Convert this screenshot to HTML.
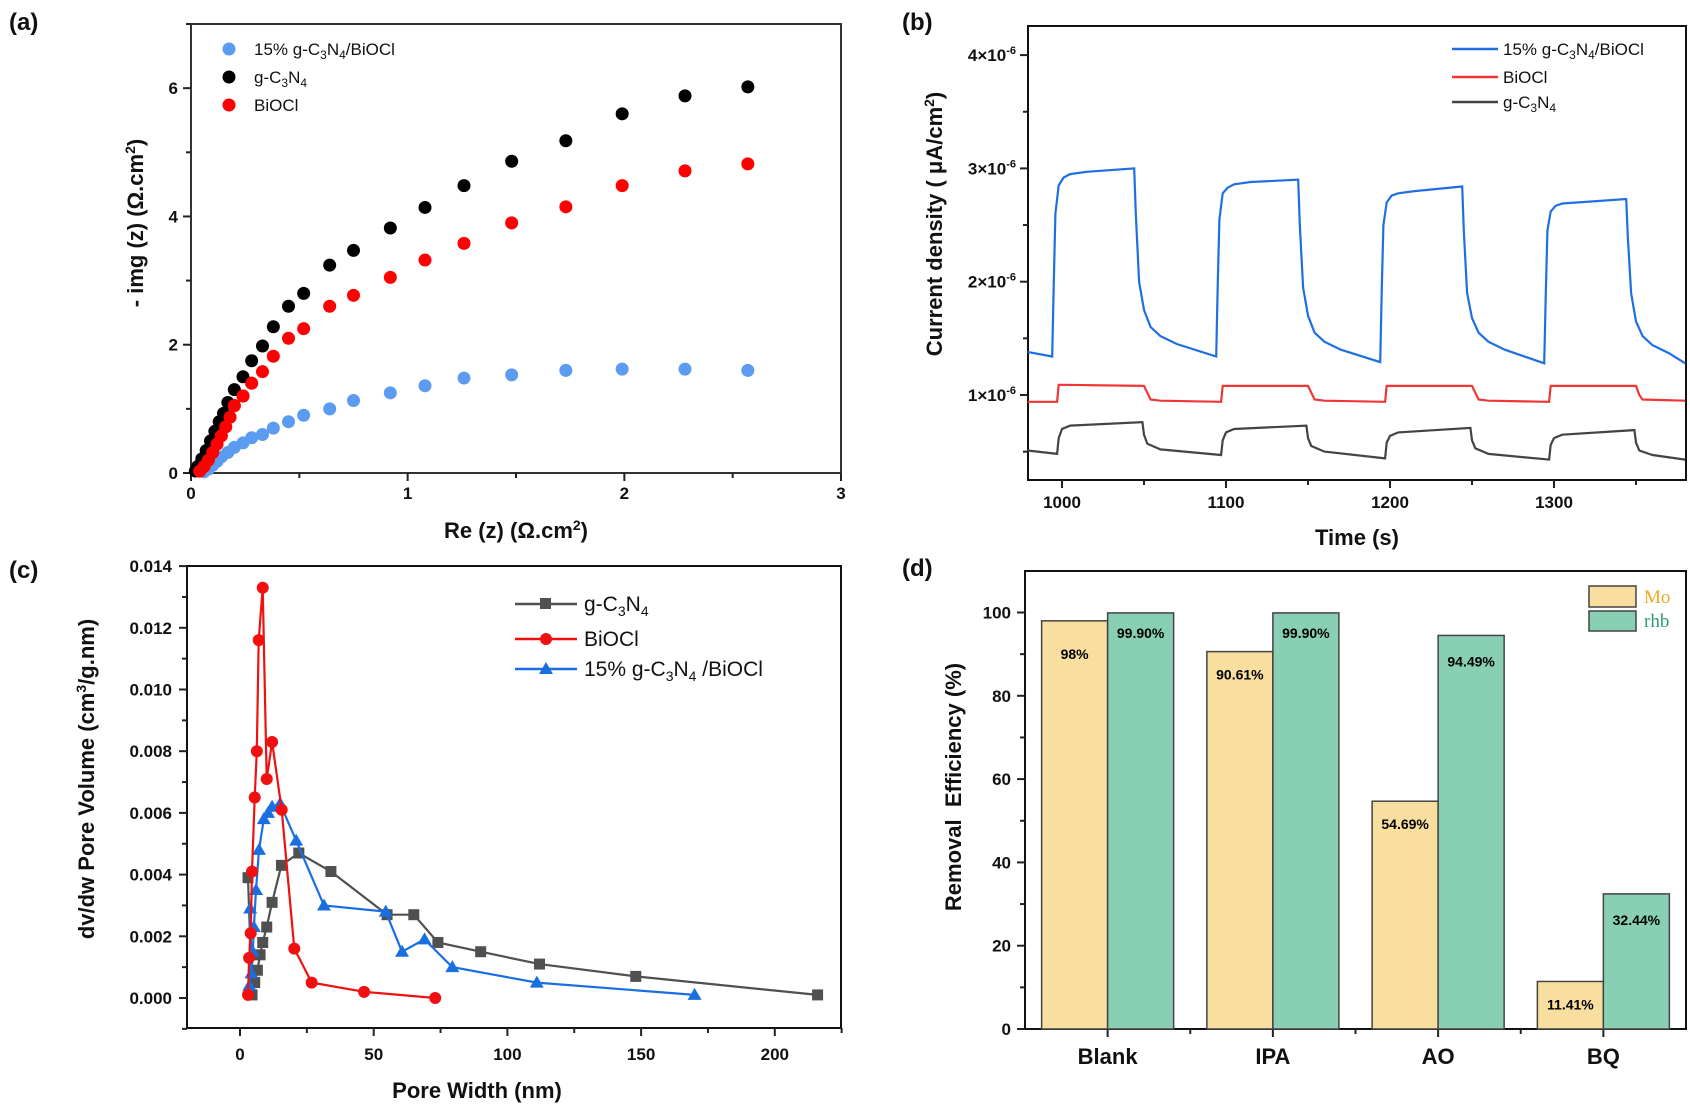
<!DOCTYPE html>
<html><head><meta charset="utf-8"><style>
html,body{margin:0;padding:0;background:#fff;}
svg{display:block;font-family:"Liberation Sans",Arial,sans-serif;}
.tk{font-weight:bold;font-size:17px;fill:#111;}
.tt{font-weight:bold;font-size:22px;fill:#111;}
.pl{font-weight:bold;font-size:24px;fill:#111;}
.lg{font-size:17px;fill:#111;}
</style></head><body>
<svg id="fig" width="1690" height="1106" viewBox="0 0 1690 1106" xmlns="http://www.w3.org/2000/svg">
  <!-- panel labels -->
  <text class="pl" x="9" y="30">(a)</text>
  <text class="pl" x="902" y="30">(b)</text>
  <text class="pl" x="9" y="578">(c)</text>
  <text class="pl" x="902" y="576">(d)</text>

  <!-- frames -->
  <rect x="191" y="24" width="650" height="449" fill="none" stroke="#333" stroke-width="2"/>
  <rect x="1028" y="26" width="658" height="454" fill="none" stroke="#111" stroke-width="2"/>
  <rect x="187" y="566" width="654" height="462" fill="none" stroke="#111" stroke-width="2"/>
  <rect x="1025" y="571" width="661" height="458" fill="none" stroke="#111" stroke-width="2"/>

  <g id="ga"></g>
  <g id="gb"></g>
  <g id="gc"></g>
  <g id="gd"></g>

  <!-- axis titles -->
  <text class="tt" transform="translate(143,223) rotate(-90)" text-anchor="middle">- img (z) (Ω.cm<tspan font-size="14" dy="-8">2</tspan><tspan dy="8">)</tspan></text>
  <text class="tt" x="516" y="538" text-anchor="middle">Re (z) (Ω.cm<tspan font-size="14" dy="-8">2</tspan><tspan dy="8">)</tspan></text>
  <text class="tt" transform="translate(942,224) rotate(-90)" text-anchor="middle">Current density ( μA/cm<tspan font-size="14" dy="-8">2</tspan><tspan dy="8">)</tspan></text>
  <text class="tt" x="1357" y="545" text-anchor="middle">Time (s)</text>
  <text class="tt" transform="translate(94,779) rotate(-90)" text-anchor="middle">dv/dw Pore Volume (cm<tspan font-size="14" dy="-8">3</tspan><tspan dy="8">/g.nm)</tspan></text>
  <text class="tt" x="477" y="1098" text-anchor="middle">Pore Width (nm)</text>
  <text class="tt" transform="translate(961,787) rotate(-90)" text-anchor="middle" xml:space="preserve">Removal  Efficiency (%)</text>

  <!-- legend a -->
  <g>
    <circle cx="229" cy="49" r="6.5" fill="#5b9cf0"/>
    <text class="lg" x="254" y="55">15% g-C<tspan font-size="12" dy="4">3</tspan><tspan dy="-4">N</tspan><tspan font-size="12" dy="4">4</tspan><tspan dy="-4">/BiOCl</tspan></text>
    <circle cx="229" cy="77" r="6.5" fill="#000"/>
    <text class="lg" x="254" y="83">g-C<tspan font-size="12" dy="4">3</tspan><tspan dy="-4">N</tspan><tspan font-size="12" dy="4">4</tspan></text>
    <circle cx="229" cy="105" r="6.5" fill="#f00"/>
    <text class="lg" x="254" y="111">BiOCl</text>
  </g>
  <!-- legend b -->
  <g>
    <line x1="1452" y1="49" x2="1498" y2="49" stroke="#1f6fe0" stroke-width="2.5"/>
    <text class="lg" x="1503" y="55">15% g-C<tspan font-size="12" dy="4">3</tspan><tspan dy="-4">N</tspan><tspan font-size="12" dy="4">4</tspan><tspan dy="-4">/BiOCl</tspan></text>
    <line x1="1452" y1="77" x2="1498" y2="77" stroke="#f03535" stroke-width="2.5"/>
    <text class="lg" x="1503" y="83">BiOCl</text>
    <line x1="1452" y1="102" x2="1498" y2="102" stroke="#444" stroke-width="2.5"/>
    <text class="lg" x="1503" y="108">g-C<tspan font-size="12" dy="4">3</tspan><tspan dy="-4">N</tspan><tspan font-size="12" dy="4">4</tspan></text>
  </g>
  <!-- legend c -->
  <g>
    <line x1="515" y1="604" x2="577" y2="604" stroke="#505050" stroke-width="2.5"/>
    <rect x="540" y="598" width="11" height="11" fill="#505050"/>
    <text x="584" y="611" font-size="21" fill="#111">g-C<tspan font-size="14" dy="5">3</tspan><tspan dy="-5">N</tspan><tspan font-size="14" dy="5">4</tspan></text>
    <line x1="515" y1="639" x2="577" y2="639" stroke="#f01010" stroke-width="2.5"/>
    <circle cx="546" cy="639" r="6" fill="#f01010"/>
    <text x="584" y="646" font-size="21" fill="#111">BiOCl</text>
    <line x1="515" y1="669" x2="577" y2="669" stroke="#1a6fe0" stroke-width="2.5"/>
    <polygon points="546,662 553,674 539,674" fill="#1a6fe0"/>
    <text x="584" y="676" font-size="21" fill="#111">15% g-C<tspan font-size="14" dy="5">3</tspan><tspan dy="-5">N</tspan><tspan font-size="14" dy="5">4</tspan><tspan dy="-5"> /BiOCl</tspan></text>
  </g>
  <!-- legend d -->
  <g>
    <rect x="1589" y="586" width="47" height="21" fill="#f9df9f" stroke="#444" stroke-width="1.5"/>
    <text x="1644" y="603" font-family="Liberation Serif,serif" font-size="19" fill="#f0a820">Mo</text>
    <rect x="1589" y="611" width="47" height="20" fill="#88cfb4" stroke="#444" stroke-width="1.5"/>
    <text x="1644" y="627" font-family="Liberation Serif,serif" font-size="19" fill="#2a9d6a">rhb</text>
  </g>
</svg>
<script>
const NS = "http://www.w3.org/2000/svg";
// ---------- panel (a) data: Nyquist ----------
const aBlack = [[2.57,6.02],[2.28,5.88],[1.99,5.6],[1.73,5.18],[1.48,4.86],[1.26,4.48],[1.08,4.14],[0.92,3.82],[0.75,3.47],[0.64,3.24],[0.52,2.8],[0.45,2.6],[0.38,2.28],[0.33,1.98],[0.28,1.75],[0.24,1.5],[0.2,1.3],[0.17,1.1],[0.15,0.93],[0.13,0.8],[0.11,0.65],[0.09,0.5],[0.07,0.35],[0.05,0.22],[0.03,0.1],[0.02,0.03]];
const aRed = [[2.57,4.82],[2.28,4.71],[1.99,4.48],[1.73,4.15],[1.48,3.9],[1.26,3.58],[1.08,3.32],[0.92,3.05],[0.75,2.77],[0.64,2.6],[0.52,2.25],[0.45,2.1],[0.38,1.82],[0.33,1.58],[0.28,1.4],[0.24,1.2],[0.2,1.05],[0.18,0.87],[0.16,0.72],[0.14,0.58],[0.12,0.45],[0.1,0.32],[0.08,0.2],[0.06,0.1],[0.04,0.03]];
const aBlue = [[2.57,1.6],[2.28,1.62],[1.99,1.62],[1.73,1.6],[1.48,1.53],[1.26,1.48],[1.08,1.36],[0.92,1.25],[0.75,1.13],[0.64,1.0],[0.52,0.9],[0.45,0.8],[0.38,0.7],[0.33,0.6],[0.28,0.55],[0.24,0.47],[0.2,0.4],[0.17,0.32],[0.14,0.25],[0.12,0.18],[0.1,0.12],[0.08,0.06],[0.06,0.02]];
const aXTicks = [0,1,2,3];
const aYTicks = [0,2,4,6];
// ---------- panel (b) data: photocurrent (units 1e-6) ----------
const bBlue = [[979,1.38],[994,1.34],[995,2.0],[996,2.6],[998,2.85],[1001,2.92],[1005,2.95],[1015,2.97],[1044,3.0],[1045,2.6],[1047,2.0],[1050,1.75],[1054,1.6],[1060,1.52],[1070,1.45],[1094,1.34],
 [1095,2.0],[1096,2.55],[1098,2.78],[1101,2.83],[1105,2.86],[1115,2.88],[1144,2.9],[1145,2.5],[1147,1.95],[1150,1.7],[1154,1.55],[1160,1.47],[1170,1.4],[1194,1.29],
 [1195,1.95],[1196,2.5],[1198,2.7],[1201,2.76],[1205,2.78],[1215,2.8],[1244,2.84],[1245,2.45],[1247,1.9],[1250,1.68],[1254,1.55],[1260,1.47],[1270,1.4],[1294,1.28],
 [1295,1.9],[1296,2.45],[1298,2.62],[1301,2.67],[1305,2.69],[1315,2.7],[1344,2.73],[1345,2.4],[1347,1.9],[1350,1.65],[1354,1.52],[1360,1.44],[1370,1.37],[1380,1.28]];
const bRed = [[979,0.94],[997,0.94],[998,1.09],[1000,1.09],[1050,1.08],[1052,1.02],[1054,0.96],[1060,0.95],[1097,0.94],[1098,1.08],[1150,1.08],[1152,1.02],[1154,0.96],[1160,0.95],[1197,0.94],[1198,1.08],[1250,1.08],[1252,1.02],[1254,0.96],[1260,0.95],[1297,0.94],[1298,1.08],[1350,1.08],[1352,1.0],[1354,0.96],[1380,0.95]];
const bBlack = [[979,0.51],[997,0.48],[998,0.62],[1000,0.7],[1005,0.73],[1049,0.76],[1050,0.65],[1052,0.57],[1060,0.52],[1097,0.47],[1098,0.6],[1100,0.67],[1105,0.7],[1149,0.73],[1150,0.62],[1152,0.55],[1160,0.5],[1197,0.44],[1198,0.58],[1200,0.64],[1205,0.67],[1249,0.71],[1250,0.6],[1252,0.53],[1260,0.48],[1297,0.43],[1298,0.56],[1300,0.62],[1305,0.65],[1349,0.69],[1350,0.58],[1352,0.51],[1360,0.47],[1380,0.43]];
const bXTicks = [1000,1100,1200,1300];
const bYTicks = [1,2,3,4];
// ---------- panel (c) data: pore size distribution ----------
const cGcn = [[3,0.0039],[4.5,0.0001],[5.5,0.0005],[6.5,0.0009],[7.5,0.0014],[8.5,0.0018],[10,0.0023],[12,0.0031],[15.5,0.0043],[22,0.0047],[34,0.0041],[55,0.0027],[65,0.0027],[74,0.0018],[90,0.0015],[112,0.0011],[148,0.0007],[216,0.0001]];
const cBiocl = [[3,0.0001],[3.4,0.0013],[4,0.0021],[4.5,0.0041],[5.5,0.0065],[6.3,0.008],[7,0.0116],[8.5,0.0133],[10,0.0071],[12,0.0083],[15.6,0.0061],[20.3,0.0016],[26.8,0.0005],[46.4,0.0002],[73,0.0000]];
const cComp = [[3.5,0.0004],[3.8,0.0029],[4.3,0.0008],[4.8,0.0015],[5.2,0.0023],[6,0.0035],[7.1,0.0048],[8.9,0.0058],[10.5,0.006],[12,0.0062],[15,0.0063],[21,0.0051],[31.4,0.003],[54.5,0.0028],[60.6,0.0015],[69,0.0019],[79.4,0.001],[111,0.0005],[170,0.0001]];
const cXTicks = [0,50,100,150,200];
const cYTicks = [0,0.002,0.004,0.006,0.008,0.010,0.012,0.014];
// ---------- panel (d) data: scavenger test ----------
const dCats = ["Blank","IPA","AO","BQ"];
const dMo = [98,90.61,54.69,11.41];
const dRhb = [99.9,99.9,94.49,32.44];
const dMoLabels = ["98%","90.61%","54.69%","11.41%"];
const dRhbLabels = ["99.90%","99.90%","94.49%","32.44%"];
const dYTicks = [0,20,40,60,80,100];

// scales
const ax = v => 191 + v*216.67, ay = v => 473 - v*64.14;
const bx = t => 1062 + (t-1000)*1.64, by = v => 395 - (v-1)*113.3;
const cx = w => 240 + w*2.674, cy = v => 998 - v*30850;
const dBand = (1686-1025)/4, dx = i => 1025 + dBand*(i+0.5), dy = v => 1029 - v*4.165;

function mk(tag, parent){ const e=document.createElementNS(NS,tag); parent.appendChild(e); return e; }
function tickLine(parent,x1,y1,x2,y2){ const l=mk('line',parent); l.setAttribute('x1',x1);l.setAttribute('y1',y1);l.setAttribute('x2',x2);l.setAttribute('y2',y2);l.setAttribute('stroke','#222');l.setAttribute('stroke-width','2'); return l; }
function label(parent,x,y,txt,anchor){ const t=mk('text',parent); t.setAttribute('x',x);t.setAttribute('y',y);t.setAttribute('class','tk');t.setAttribute('text-anchor',anchor);t.textContent=txt; return t; }

// ---- panel a ----
const ga=document.getElementById('ga');
aXTicks.forEach(v=>{ const l=tickLine(ga,ax(v),473,ax(v),481);


const t=label(ga,ax(v),499,String(v),'middle');


 if(v<3){ const m=tickLine(ga,ax(v+0.5),473,ax(v+0.5),478);

 } });
aYTicks.forEach(v=>{ const l=tickLine(ga,183,ay(v),191,ay(v));


const t=label(ga,178,ay(v)+6,String(v),'end');


 const m=tickLine(ga,186,ay(v+1),191,ay(v+1));

 });
[[aBlue,'#5b9cf0','point-composite'],[aRed,'#f00','point-biocl'],[aBlack,'#000','point-gc3n4']].forEach(([arr,col,nm])=>{
  arr.forEach(p=>{ const c=mk('circle',ga); c.setAttribute('cx',ax(p[0])); c.setAttribute('cy',ay(p[1])); c.setAttribute('r',6.5); c.setAttribute('fill',col);
  
   });
});
// redraw red above black near origin like reference
aRed.forEach(p=>{ if(p[0]<0.3){ const c=mk('circle',ga); c.setAttribute('cx',ax(p[0])); c.setAttribute('cy',ay(p[1])); c.setAttribute('r',6.5); c.setAttribute('fill','#f00');

 } });

// ---- panel b ----
const gb=document.getElementById('gb');
bXTicks.forEach(v=>{ const l=tickLine(gb,bx(v),480,bx(v),488);


const t=label(gb,bx(v),508,String(v),'middle');


 const m=tickLine(gb,bx(v+50),480,bx(v+50),485);

 });
bYTicks.forEach(v=>{ const l=tickLine(gb,1020,by(v),1028,by(v));


 const t=mk('text',gb); t.setAttribute('x',1016); t.setAttribute('y',by(v)+6); t.setAttribute('class','tk'); t.setAttribute('text-anchor','end'); t.setAttribute('font-size','15');
 t.innerHTML = v+'×10<tspan font-size="11" dy="-7">-6</tspan>';


 const m=tickLine(gb,1023,by(v-0.5),1028,by(v-0.5));

 });
[[bBlue,'#1f6fe0','trace-composite'],[bRed,'#f03535','trace-biocl'],[bBlack,'#444','trace-gc3n4']].forEach(([arr,col,nm])=>{
  const p=mk('polyline',gb); p.setAttribute('points',arr.map(q=>bx(q[0]).toFixed(1)+','+by(q[1]).toFixed(1)).join(' '));
  p.setAttribute('fill','none'); p.setAttribute('stroke',col); p.setAttribute('stroke-width','2.2');
  
  
});

// ---- panel c ----
const gc=document.getElementById('gc');
cXTicks.forEach(v=>{ const l=tickLine(gc,cx(v),1028,cx(v),1036);


const t=label(gc,cx(v),1060,String(v),'middle');


 const m=tickLine(gc,cx(v+25),1028,cx(v+25),1033);

 });
cYTicks.forEach(v=>{ const l=tickLine(gc,179,cy(v),187,cy(v));


const t=label(gc,172,cy(v)+6,v.toFixed(3),'end');


 const m=tickLine(gc,182,cy(v-0.001),187,cy(v-0.001));

 });
function series(arr,col,nm,shape){
  const p=mk('polyline',gc); p.setAttribute('points',arr.map(q=>cx(q[0]).toFixed(1)+','+cy(q[1]).toFixed(1)).join(' '));
  p.setAttribute('fill','none'); p.setAttribute('stroke',col); p.setAttribute('stroke-width','2.2');
  
  
  arr.forEach(q=>{ const X=cx(q[0]),Y=cy(q[1]); let m;
    if(shape==='sq'){ m=mk('rect',gc); m.setAttribute('x',X-5.5); m.setAttribute('y',Y-5.5); m.setAttribute('width',11); m.setAttribute('height',11); }
    else if(shape==='ci'){ m=mk('circle',gc); m.setAttribute('cx',X); m.setAttribute('cy',Y); m.setAttribute('r',6); }
    else { m=mk('polygon',gc); m.setAttribute('points',X+','+(Y-7)+' '+(X+7)+','+(Y+5)+' '+(X-7)+','+(Y+5)); }
    m.setAttribute('fill',col);
    
    
  });
}
series(cGcn,'#505050','series-gc3n4','sq');
series(cComp,'#1a6fe0','series-composite','tr');
series(cBiocl,'#f01010','series-biocl','ci');

// ---- panel d ----
const gd=document.getElementById('gd');
dYTicks.forEach(v=>{ const l=tickLine(gd,1017,dy(v),1025,dy(v));


const t=label(gd,1011,dy(v)+6,String(v),'end');


 if(v<100){ const m=tickLine(gd,1020,dy(v+10),1025,dy(v+10));

 } });
dCats.forEach((c,i)=>{
  const l=tickLine(gd,dx(i),1029,dx(i),1037);
  
  
  if(i>0){ const m=tickLine(gd,dx(i)-dBand/2,1029,dx(i)-dBand/2,1034);
  
   }
  const t=mk('text',gd); t.setAttribute('x',dx(i)); t.setAttribute('y',1064); t.setAttribute('class','tt'); t.setAttribute('text-anchor','middle'); t.textContent=c;
  
  
  const bw=66;
  const b1=mk('rect',gd); b1.setAttribute('x',dx(i)-bw); b1.setAttribute('y',dy(dMo[i])); b1.setAttribute('width',bw); b1.setAttribute('height',dy(0)-dy(dMo[i])); b1.setAttribute('fill','#f9df9f'); b1.setAttribute('stroke','#444'); b1.setAttribute('stroke-width','1.5');
  
  
  const b2=mk('rect',gd); b2.setAttribute('x',dx(i)); b2.setAttribute('y',dy(dRhb[i])); b2.setAttribute('width',bw); b2.setAttribute('height',dy(0)-dy(dRhb[i])); b2.setAttribute('fill','#88cfb4'); b2.setAttribute('stroke','#444'); b2.setAttribute('stroke-width','1.5');
  
  
  const t1=mk('text',gd); t1.setAttribute('x',dx(i)-bw/2); t1.setAttribute('y',dy(dMo[i])+(i===0?38:28)); t1.setAttribute('text-anchor','middle'); t1.setAttribute('font-weight','bold'); t1.setAttribute('font-size','14'); t1.textContent=dMoLabels[i];
  
  
  const t2=mk('text',gd); t2.setAttribute('x',dx(i)+bw/2); t2.setAttribute('y',dy(dRhb[i])+(i<2?25:31)); t2.setAttribute('text-anchor','middle'); t2.setAttribute('font-weight','bold'); t2.setAttribute('font-size','14'); t2.textContent=dRhbLabels[i];
  
  
});
</script>
</body></html>
